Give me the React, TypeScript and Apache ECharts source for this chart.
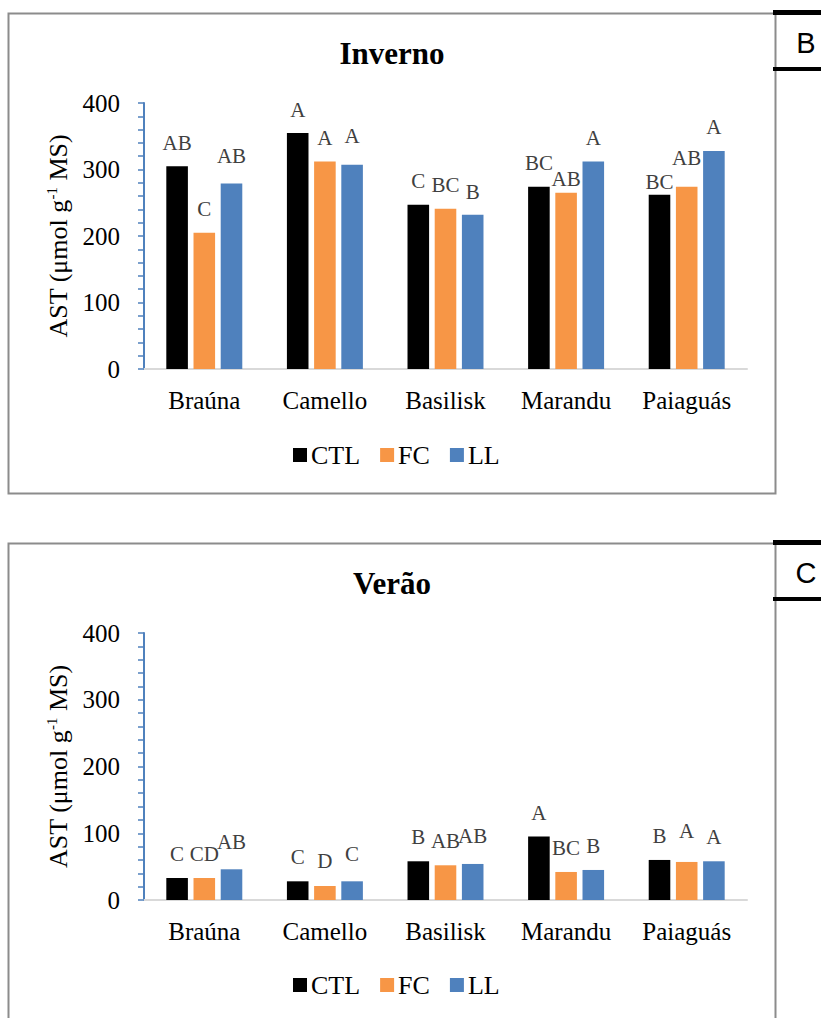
import React, { useEffect, useRef } from "react";
import * as echarts from "echarts";

const categories = ["Braúna", "Camello", "Basilisk", "Marandu", "Paiaguás"];
const seriesNames = ["CTL", "FC", "LL"];

const winterCTL = [305, 355, 247, 274, 262];
const winterFC = [205, 312, 241, 265, 274];
const winterLL = [279, 307, 232, 312, 328];

const summerCTL = [33, 28, 58, 95, 60];
const summerFC = [33, 21, 52, 42, 57];
const summerLL = [46, 28, 54, 45, 58];

const winterCTLLetters = ["AB", "A", "C", "BC", "BC"];
const winterFCLetters = ["C", "A", "BC", "AB", "AB"];
const winterLLLetters = ["AB", "A", "B", "A", "A"];

const summerCTLLetters = ["C", "C", "B", "A", "B"];
const summerFCLetters = ["CD", "D", "AB", "BC", "A"];
const summerLLLetters = ["AB", "C", "AB", "B", "A"];

const yTicks = [0, 100, 200, 300, 400];

// label gaps (px) between the letter and the bar top
const winterGaps = [
  [17, 16, 17, 17, 6],
  [17, 17, 17, 7, 22],
  [21, 22, 16, 17, 17],
];
const summerGaps = [
  [17, 18, 18, 17, 17],
  [17, 18, 18, 17, 24],
  [21, 21, 21, 17, 18],
];

const colors = ["#000000", "#F79646", "#4F81BD"];
const SERIF = "Liberation Serif";
const SANS = "Liberation Sans";

export default function App() {
  const ref = useRef<HTMLDivElement>(null);

  useEffect(() => {
    if (!ref.current) return;
    const chart = echarts.init(ref.current, undefined, { renderer: "svg" });

    const winter = [winterCTL, winterFC, winterLL];
    const summer = [summerCTL, summerFC, summerLL];
    const winterLetters = [winterCTLLetters, winterFCLetters, winterLLLetters];
    const summerLetters = [summerCTLLetters, summerFCLetters, summerLLLetters];

    const offset = 530;
    const grids = [
      { left: 144, right: 74, top: 103, height: 266 },
      { left: 144, right: 74, top: 103 + offset, height: 267 },
    ];

    const xAxes = [0, 1].map((g) => ({
      type: "category",
      gridIndex: g,
      data: categories,
      axisLine: { show: true, lineStyle: { color: "#D9D9D9", width: 2 } },
      axisTick: { show: false },
      axisLabel: {
        margin: 19,
        fontFamily: SERIF,
        fontSize: 25,
        color: "#000",
      },
    }));

    const yAxes = [0, 1].map((g) => ({
      type: "value",
      gridIndex: g,
      min: yTicks[0],
      max: yTicks[yTicks.length - 1],
      interval: 100,
      name: "{a|AST (μmol g}{s|-1}{a| MS)}",
      nameLocation: "middle",
      nameGap: 68,
      nameRotate: 90,
      nameTextStyle: {
        fontFamily: SERIF,
        fontSize: 26,
        rich: {
          a: { fontFamily: SERIF, fontSize: 26, color: "#000", lineHeight: 28 },
          s: { fontFamily: SERIF, fontSize: 15, color: "#000", lineHeight: 14, verticalAlign: "top" },
        },
      },
      axisLine: { show: true, lineStyle: { color: "#4F81BD", width: 2 } },
      axisTick: { show: true, length: 6, lineStyle: { color: "#4F81BD", width: 1.5 } },
      minorTick: { show: true, splitNumber: 5, length: 6, lineStyle: { color: "#4F81BD", width: 1.5 } },
      splitLine: { show: false },
      axisLabel: {
        margin: 24,
        fontFamily: SERIF,
        fontSize: 25,
        color: "#000",
      },
    }));

    const series: any[] = [];
    [winter, summer].forEach((set, g) => {
      const letters = g === 0 ? winterLetters : summerLetters;
      const gaps = g === 0 ? winterGaps : summerGaps;
      set.forEach((vals, s) => {
        series.push({
          type: "bar",
          name: seriesNames[s],
          xAxisIndex: g,
          yAxisIndex: g,
          barCategoryGap: "37%",
          barGap: "26%",
          itemStyle: { color: colors[s] },
          data: vals.map((v, i) => ({
            value: v,
            label: { distance: gaps[s][i] - 4 },
          })),
          label: {
            show: true,
            position: "top",
            fontFamily: SERIF,
            fontSize: 21,
            color: "#404040",
            formatter: (p: any) => letters[s][p.dataIndex],
          },
        });
      });
    });

    const legendBase = {
      orient: "horizontal",
      left: 293,
      padding: 0,
      itemWidth: 14,
      itemHeight: 14,
      itemGap: 20,
      icon: "rect",
      textStyle: { fontFamily: SERIF, fontSize: 26, color: "#000", padding: [0, 0, 0, -1] },
      data: seriesNames,
      selectedMode: false,
    };

    const panelGraphics = (dy: number, letter: string) => [
      {
        type: "rect",
        shape: { x: 8.5, y: 13.5 + dy, width: 767, height: 480 },
        style: { fill: "none", stroke: "#8C8C8C", lineWidth: 2 },
        z: 1,
      },
      {
        type: "rect",
        shape: { x: 773, y: 10 + dy, width: 48, height: 5 },
        style: { fill: "#000" },
        z: 2,
      },
      {
        type: "rect",
        shape: { x: 773, y: 67 + dy, width: 48, height: 4 },
        style: { fill: "#000" },
        z: 2,
      },
      {
        type: "text",
        x: 806,
        y: 43 + dy,
        style: {
          text: letter,
          fontFamily: SANS,
          fontSize: 29,
          fill: "#000",
          align: "center",
          verticalAlign: "middle",
        },
        z: 2,
      },
    ];

    chart.setOption({
      animation: false,
      backgroundColor: "#fff",
      textStyle: { fontFamily: SERIF },
      title: [
        {
          text: "Inverno",
          left: 392,
          textAlign: "center",
          top: 38,
          padding: 0,
          textStyle: { fontFamily: SERIF, fontSize: 31, fontWeight: "bold", color: "#000" },
        },
        {
          text: "Verão",
          left: 392,
          textAlign: "center",
          top: 38 + offset,
          padding: 0,
          textStyle: { fontFamily: SERIF, fontSize: 31, fontWeight: "bold", color: "#000" },
        },
      ],
      legend: [
        { ...legendBase, top: 442 },
        { ...legendBase, top: 442 + offset },
      ],
      grid: grids,
      xAxis: xAxes,
      yAxis: yAxes,
      series,
      graphic: [...panelGraphics(0, "B"), ...panelGraphics(offset, "C")],
    });

    return () => chart.dispose();
  }, []);

  return (
    <div
      ref={ref}
      style={{ position: "absolute", left: 0, top: 0, width: 821, height: 1018 }}
    />
  );
}
